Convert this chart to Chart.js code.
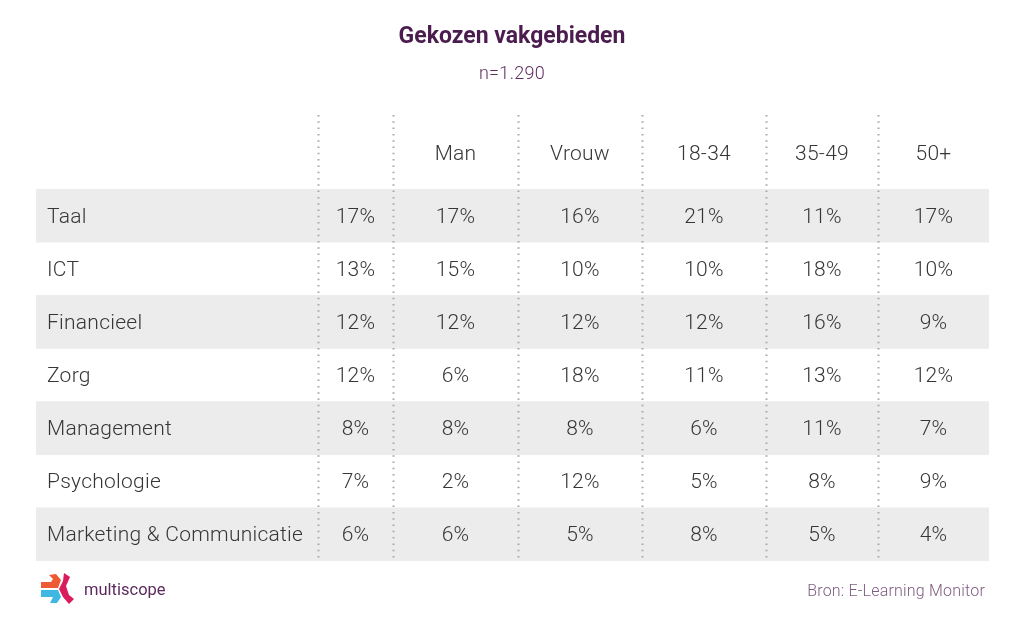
<!DOCTYPE html>
<html><head><meta charset="utf-8">
<script src="https://cdn.jsdelivr.net/npm/chart.js@4/dist/chart.umd.min.js"></script>
<style>html,body{margin:0;padding:0;background:#fff}#wrap{width:1024px;height:632px;position:relative}canvas{display:block}</style>
</head><body><div id="wrap"><canvas id="c" width="1024" height="632" style="width:1024px;height:632px"></canvas></div>
<script>
// ---- data ----
const title = 'Gekozen vakgebieden';
const subtitle = 'n=1.290';
const source = 'Bron: E-Learning Monitor';
const brand = 'multiscope';
const columns = ['', 'Man', 'Vrouw', '18-34', '35-49', '50+'];
const categories = ['Taal', 'ICT', 'Financieel', 'Zorg', 'Management', 'Psychologie', 'Marketing & Communicatie'];
const totaal = [17, 13, 12, 12, 8, 7, 6];
const man = [17, 15, 12, 6, 8, 2, 6];
const vrouw = [16, 10, 12, 18, 8, 12, 5];
const age1834 = [21, 10, 12, 11, 6, 5, 8];
const age3549 = [11, 18, 16, 13, 11, 8, 5];
const age50 = [17, 10, 9, 12, 7, 9, 4];
const series = [totaal, man, vrouw, age1834, age3549, age50];

// ---- layout (not data) ----
const colWidths = [282, 75, 125, 124, 124, 112, 111];
const edges = colWidths.reduce((a, w) => { a.push(a[a.length - 1] + w); return a; }, [0]);
const tableWidth = edges[edges.length - 1];
const FONT = 'Roboto, "DejaVu Sans", sans-serif';

function drawLogo(ctx, x, y) {
  ctx.save();
  ctx.translate(x, y);
  ctx.fillStyle = '#ef5a36';
  ctx.beginPath();
  ctx.moveTo(11, 2); ctx.lineTo(18, 1); ctx.lineTo(23, 7); ctx.lineTo(20, 15);
  ctx.lineTo(3, 15); ctx.lineTo(3, 9); ctx.lineTo(13, 9); ctx.lineTo(15, 6);
  ctx.closePath(); ctx.fill();
  ctx.fillStyle = '#d91c5c';
  ctx.beginPath();
  ctx.moveTo(26, 0); ctx.lineTo(32, 4); ctx.lineTo(28, 13); ctx.lineTo(31, 22);
  ctx.lineTo(36, 26); ctx.lineTo(31, 31); ctx.lineTo(25, 24); ctx.lineTo(21, 16);
  ctx.lineTo(25, 8);
  ctx.closePath(); ctx.fill();
  ctx.fillStyle = '#3fb7e3';
  ctx.beginPath();
  ctx.moveTo(3, 17); ctx.lineTo(20, 17); ctx.lineTo(23, 24); ctx.lineTo(19, 30);
  ctx.lineTo(12, 30); ctx.lineTo(15, 24); ctx.lineTo(3, 24);
  ctx.closePath(); ctx.fill();
  ctx.restore();
}

const tablePlugin = {
  id: 'tablePlugin',
  afterDatasetsDraw(chart) {
    const ctx = chart.ctx;
    const xs = chart.scales.x, ys = chart.scales.y;
    const area = chart.chartArea;
    const px = v => xs.getPixelForValue(v);
    ctx.save();
    ctx.textAlign = 'center'; ctx.textBaseline = 'alphabetic';
    ctx.fillStyle = '#4b1d4f';
    ctx.font = 'bold 23px ' + FONT;
    ctx.fillText(title, 512, 43);
    ctx.fillStyle = '#5e2d61';
    ctx.font = '300 18px ' + FONT;
    ctx.letterSpacing = '0.3px';
    ctx.fillText(subtitle, 512, 79);

    ctx.strokeStyle = '#a8a8a8';
    ctx.lineWidth = 2;
    ctx.setLineDash([1.5, 4.8]);
    for (let i = 1; i < edges.length - 1; i++) {
      const x = Math.round(px(edges[i])) + 0.5;
      ctx.beginPath(); ctx.moveTo(x, 115); ctx.lineTo(x, area.bottom); ctx.stroke();
    }
    ctx.setLineDash([]);

    ctx.fillStyle = '#363636';
    ctx.font = '300 21px ' + FONT;
    ctx.letterSpacing = '0.25px';
    columns.forEach((c, j) => {
      const cx = px((edges[j + 1] + edges[j + 2]) / 2);
      ctx.fillText(c, cx, 159.5);
    });

    categories.forEach((cat, i) => {
      const cy = ys.getPixelForValue(i);
      ctx.textAlign = 'left';
      ctx.fillText(cat, px(edges[0]) + 11, cy + 7);
      ctx.textAlign = 'center';
      series.forEach((s, j) => {
        const cx = px((edges[j + 1] + edges[j + 2]) / 2);
        ctx.fillText(s[i] + '%', cx, cy + 7);
      });
    });

    drawLogo(ctx, 38, 573);
    ctx.textAlign = 'left';
    ctx.fillStyle = '#5b2a5e';
    ctx.font = '16.5px ' + FONT;
    ctx.letterSpacing = '0px';
    ctx.fillText(brand, 84, 595);
    ctx.textAlign = 'right';
    ctx.fillStyle = '#7d5c80';
    ctx.font = '300 16px ' + FONT;
    ctx.letterSpacing = '0.2px';
    ctx.fillText(source, 985, 596);
    ctx.restore();
  }
};

new Chart(document.getElementById('c'), {
  type: 'bar',
  data: {
    labels: categories,
    datasets: [{
      data: categories.map((_, i) => i % 2 === 0 ? [0, tableWidth] : null),
      backgroundColor: '#ececec',
      borderWidth: 0,
      categoryPercentage: 1,
      barPercentage: 1
    }]
  },
  options: {
    indexAxis: 'y',
    responsive: false,
    animation: false,
    devicePixelRatio: 1,
    layout: { padding: { left: 36, right: 35, top: 189, bottom: 71 } },
    plugins: { legend: { display: false }, tooltip: { enabled: false }, title: { display: false } },
    scales: {
      x: { type: 'linear', min: 0, max: tableWidth, display: false },
      y: { type: 'category', display: false, offset: true, grid: { display: false } }
    }
  },
  plugins: [tablePlugin]
});
</script>
</body></html>
